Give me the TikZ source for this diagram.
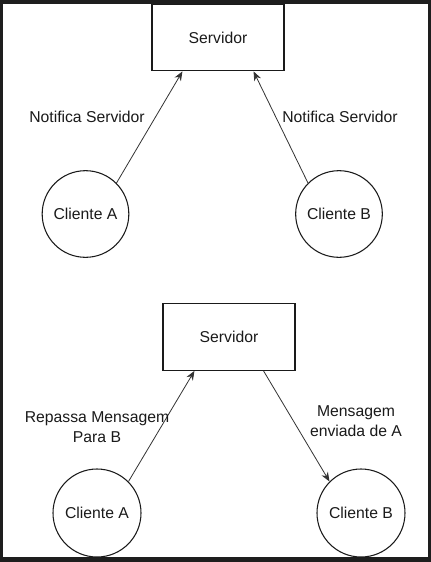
\documentclass[tikz,border=0pt]{standalone}
\usepackage{fontspec}
\setmainfont{Liberation Sans}
\usetikzlibrary{arrows.meta, positioning}
\definecolor{mFrame}{HTML}{1E1E1E}
\definecolor{mInk}{HTML}{1A1A1A}
\definecolor{mLine}{HTML}{333333}

\begin{document}
\begin{tikzpicture}[x=0.75pt, y=-0.75pt,
  srvbox/.style={draw=mInk, line width=0.8pt, fill=white,
                 minimum width=99pt, minimum height=50pt, inner sep=0pt,
                 font=\fontsize{11.8}{15}\selectfont\color{mInk}},
  client/.style={circle, draw=mInk, line width=0.8pt, fill=white,
                 minimum size=#1, inner sep=0pt,
                 font=\fontsize{11.8}{15}\selectfont\color{mInk}},
  client/.default=65pt,
  lbl/.style={align=center, inner sep=0pt, font=\fontsize{11.8}{15}\selectfont\color{mInk}},
  arr/.style={-{Stealth[length=7pt, width=5.5pt]}, line width=0.6pt, draw=mLine}]
  % frame
  \fill[mFrame] (0,0) rectangle (431,562);
  \fill[white] (3,4) rectangle (428,557);
  \useasboundingbox (0,0) rectangle (431,562);
  % top: both clients notify the server
  \node[srvbox] (srv1) at (218,37.5) {Servidor};
  \node[client] (ca1) at (85.5,214) {Cliente A};
  \node[client] (cb1) at (339,214) {Cliente B};
  \draw[arr] (ca1.45) -- ([xshift=23.25pt]srv1.south west);
  \draw[arr] (cb1.135) -- ([xshift=-23.25pt]srv1.south east);
  \node[lbl] (n1) at (87,117) {Notifica Servidor};
  \node[lbl] (n2) at (340,117) {Notifica Servidor};
  % bottom: the server passes the message on
  \node[srvbox] (srv2) at (229,337) {Servidor};
  \node[client=66pt] (ca2) at (97,513) {Cliente A};
  \node[client=66pt] (cb2) at (361,513) {Cliente B};
  \draw[arr] (ca2.45) -- ([xshift=24pt]srv2.south west);
  \draw[arr] ([xshift=-24pt]srv2.south east) -- (cb2.135);
  \node[lbl] (n3) at (97,427) {Repassa Mensagem\\Para B};
  \node[lbl] (n4) at (356,421) {Mensagem\\enviada de A};
\end{tikzpicture}
\end{document}
